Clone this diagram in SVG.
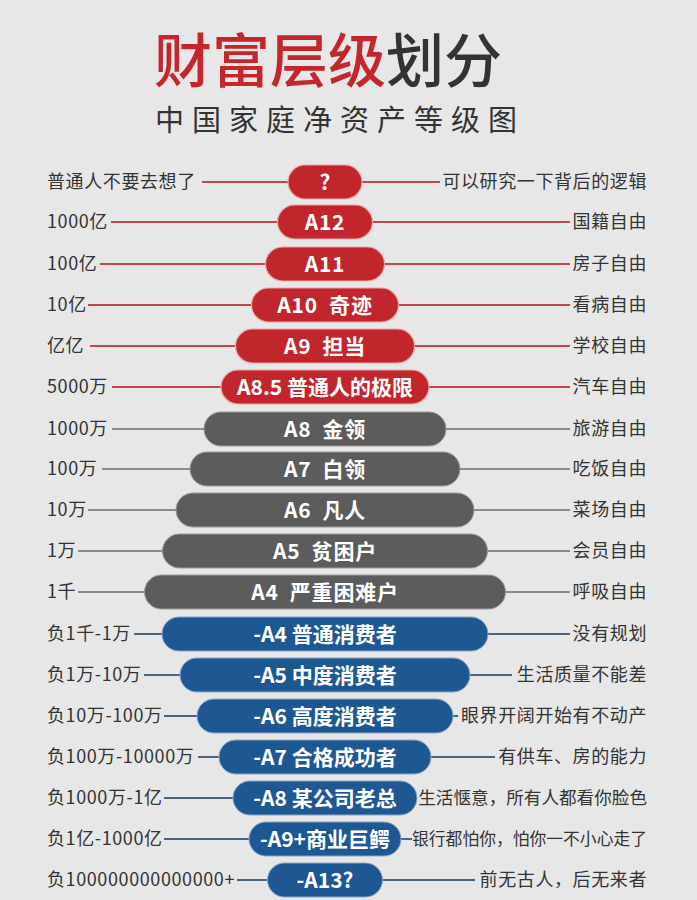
<svg xmlns="http://www.w3.org/2000/svg" width="697" height="900" viewBox="0 0 697 900">
<defs>
<style>
.bg{fill:#e7e7e7}
.t1{font-family:"Noto Sans CJK SC","Noto Sans",sans-serif;font-size:58px;font-weight:500}
.t2{font-family:"Noto Sans CJK SC","Noto Sans",sans-serif;font-size:29px;fill:#333;letter-spacing:8px}
.lab{font-family:"Noto Sans CJK SC","Noto Sans",sans-serif;font-size:18px;fill:#333;letter-spacing:0.6px}
.r{text-anchor:end}
.sm1{font-size:17.6px;letter-spacing:0}
.sm2{font-size:16.8px;letter-spacing:0}
.pt{font-family:"Noto Sans CJK SC","Noto Sans",sans-serif;font-size:21px;font-weight:600;fill:#fff;text-anchor:middle}
.ws{letter-spacing:0.8px}
.red{fill:#c1262d;stroke:#e9a8a8;stroke-width:1.2}
.gray{fill:#5c5c5c;stroke:#9a9a9a;stroke-width:1}
.blue{fill:#1e5893;stroke:#8aa6c4;stroke-width:1}
.lr{stroke:#c4454b;stroke-width:2;fill:none}
.lg{stroke:#6e6e6e;stroke-width:1.6;fill:none}
.lb{stroke:#4b6580;stroke-width:1.8;fill:none}
</style>
</defs>
<rect class="bg" x="0" y="0" width="697" height="900"/>
<g id="title">
<text class="t1" x="154" y="82"><tspan fill="#c4262e">财富层级</tspan><tspan fill="#333">划分</tspan></text>
<text class="t2" x="155" y="131">中国家庭净资产等级图</text>
</g>
<g id="connectors">
<path class="lr" d="M202 182H288M362 182H440"/>
<path class="lr" d="M111 222H277.5M372.5 222H570"/>
<path class="lr" d="M100 264H265.5M384.5 264H570"/>
<path class="lr" d="M88 305H251.5M398.5 305H570"/>
<path class="lr" d="M90 346H235.5M414.5 346H570"/>
<path class="lr" d="M112 387H221M429 387H570"/>
<path class="lg" d="M112 429H204M446 429H570"/>
<path class="lg" d="M102 469H190M460 469H570"/>
<path class="lg" d="M88 510H176M474 510H570"/>
<path class="lg" d="M78 551H162.5M487.5 551H570"/>
<path class="lg" d="M78 592H144.5M505.5 592H570"/>
<path class="lb" d="M134 634H162M488 634H570"/>
<path class="lb" d="M144 675H180M470 675H512"/>
<path class="lb" d="M164 716H197M453 716H458"/>
<path class="lb" d="M198 757H219M431 757H495"/>
<path class="lb" d="M164 798H233"/>
<path class="lb" d="M164 839H249M401 839H412"/>
<path class="lb" d="M237 880H267.5M382.5 880H475"/>
</g>
<g id="n1"><rect class="red" x="288" y="165" width="74" height="34" rx="17"/><text class="pt" x="325" y="190">?</text><text class="lab" x="47" y="188">普通人不要去想了</text><text class="lab r" x="647" y="188">可以研究一下背后的逻辑</text></g>
<g id="n2"><rect class="red" x="277.5" y="205" width="95" height="34" rx="17"/><text class="pt ws" x="325" y="230">A12</text><text class="lab" x="47" y="228">1000亿</text><text class="lab r" x="647" y="228">国籍自由</text></g>
<g id="n3"><rect class="red" x="265.5" y="247" width="119" height="34" rx="17"/><text class="pt ws" x="325" y="272">A11</text><text class="lab" x="47" y="270">100亿</text><text class="lab r" x="647" y="270">房子自由</text></g>
<g id="n4"><rect class="red" x="251.5" y="288" width="147" height="34" rx="17"/><text class="pt ws" x="325" y="313" xml:space="preserve">A10  奇迹</text><text class="lab" x="47" y="311">10亿</text><text class="lab r" x="647" y="311">看病自由</text></g>
<g id="n5"><rect class="red" x="235.5" y="329" width="179" height="34" rx="17"/><text class="pt ws" x="325" y="354" xml:space="preserve">A9  担当</text><text class="lab" x="47" y="352">亿亿</text><text class="lab r" x="647" y="352">学校自由</text></g>
<g id="n6"><rect class="red" x="221" y="370" width="208" height="34" rx="17"/><text class="pt" x="325" y="395">A8.5 普通人的极限</text><text class="lab" x="47" y="393">5000万</text><text class="lab r" x="647" y="393">汽车自由</text></g>
<g id="n7"><rect class="gray" x="204" y="412" width="242" height="34" rx="17"/><text class="pt ws" x="325" y="437" xml:space="preserve">A8  金领</text><text class="lab" x="47" y="435">1000万</text><text class="lab r" x="647" y="435">旅游自由</text></g>
<g id="n8"><rect class="gray" x="190" y="452" width="270" height="34" rx="17"/><text class="pt ws" x="325" y="477" xml:space="preserve">A7  白领</text><text class="lab" x="47" y="475">100万</text><text class="lab r" x="647" y="475">吃饭自由</text></g>
<g id="n9"><rect class="gray" x="176" y="493" width="298" height="34" rx="17"/><text class="pt ws" x="325" y="518" xml:space="preserve">A6  凡人</text><text class="lab" x="47" y="516">10万</text><text class="lab r" x="647" y="516">菜场自由</text></g>
<g id="n10"><rect class="gray" x="162.5" y="534" width="325" height="34" rx="17"/><text class="pt ws" x="325" y="559" xml:space="preserve">A5  贫困户</text><text class="lab" x="47" y="557">1万</text><text class="lab r" x="647" y="557">会员自由</text></g>
<g id="n11"><rect class="gray" x="144.5" y="575" width="361" height="34" rx="17"/><text class="pt ws" x="325" y="600" xml:space="preserve">A4  严重困难户</text><text class="lab" x="47" y="598">1千</text><text class="lab r" x="647" y="598">呼吸自由</text></g>
<g id="n12"><rect class="blue" x="162" y="617" width="326" height="34" rx="17"/><text class="pt" x="325" y="642">-A4 普通消费者</text><text class="lab" x="47" y="640">负1千-1万</text><text class="lab r" x="647" y="640">没有规划</text></g>
<g id="n13"><rect class="blue" x="180" y="658" width="290" height="34" rx="17"/><text class="pt" x="325" y="683">-A5 中度消费者</text><text class="lab" x="47" y="681">负1万-10万</text><text class="lab r" x="647" y="681">生活质量不能差</text></g>
<g id="n14"><rect class="blue" x="197" y="699" width="256" height="34" rx="17"/><text class="pt" x="325" y="724">-A6 高度消费者</text><text class="lab" x="47" y="722">负10万-100万</text><text class="lab r" x="647" y="722">眼界开阔开始有不动产</text></g>
<g id="n15"><rect class="blue" x="219" y="740" width="212" height="34" rx="17"/><text class="pt" x="325" y="765">-A7 合格成功者</text><text class="lab" x="47" y="763">负100万-10000万</text><text class="lab r" x="647" y="763">有供车、房的能力</text></g>
<g id="n16"><rect class="blue" x="233" y="781" width="184" height="34" rx="17"/><text class="pt" x="325" y="806">-A8 某公司老总</text><text class="lab" x="47" y="804">负1000万-1亿</text><text class="lab r sm1" x="647" y="804">生活惬意，所有人都看你脸色</text></g>
<g id="n17"><rect class="blue" x="249" y="822" width="152" height="34" rx="17"/><text class="pt" x="325" y="847">-A9+商业巨鳄</text><text class="lab" x="47" y="845">负1亿-1000亿</text><text class="lab r sm2" x="647" y="845">银行都怕你，怕你一不小心走了</text></g>
<g id="n18"><rect class="blue" x="267.5" y="863" width="115" height="34" rx="17"/><text class="pt" x="325" y="888">-A13?</text><text class="lab" x="47" y="886">负100000000000000+</text><text class="lab r" x="647" y="886">前无古人，后无来者</text></g>
</svg>
